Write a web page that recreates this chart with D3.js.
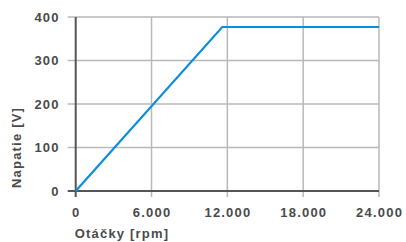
<!DOCTYPE html>
<html>
<head>
<meta charset="utf-8">
<script src="https://cdn.jsdelivr.net/npm/d3@7"></script>
<style>
  html, body { margin: 0; padding: 0; background: #fff; }
  text { font-family: "Liberation Sans", Arial, sans-serif; font-weight: bold; fill: #4a4a4a; }
</style>
</head>
<body>
<div id="chart"></div>
<script>
// values
const rpm = [0, 11600, 24000];
const voltage = [0, 377, 377];
const xTicks = [0, 6000, 12000, 18000, 24000];
const yTicks = [0, 100, 200, 300, 400];
const xTitle = "Otáčky [rpm]";
const yTitle = "Napatie [V]";

const width = 406;
const height = 242;
const margin = { top: 17, right: 27, bottom: 51, left: 75.7 };

const svg = d3.select("#chart")
    .append("svg")
    .attr("width", width)
    .attr("height", height);

const x = d3.scaleLinear().domain([0, 24000]).range([margin.left, width - margin.right]);
const y = d3.scaleLinear().domain([0, 400]).range([height - margin.bottom, margin.top]);

const fmt = d => d3.format(",")(d).replace(/,/g, ".");

// grid lines (they also act as ticks past the axes)
svg.append("g")
    .selectAll("line")
    .data(yTicks.slice(1))
    .enter()
    .append("line")
    .attr("x1", x(0) - 8)
    .attr("x2", x(24000))
    .attr("y1", d => y(d))
    .attr("y2", d => y(d))
    .attr("stroke", "#b8b8b8")
    .attr("stroke-width", 1.5);

svg.append("g")
    .selectAll("line")
    .data(xTicks.slice(1))
    .enter()
    .append("line")
    .attr("x1", d => x(d))
    .attr("x2", d => x(d))
    .attr("y1", y(400))
    .attr("y2", y(0) + 6)
    .attr("stroke", "#b8b8b8")
    .attr("stroke-width", 1.5);

// axes
svg.append("line")
    .attr("x1", x(0) - 8).attr("x2", x(24000))
    .attr("y1", y(0)).attr("y2", y(0))
    .attr("stroke", "#555").attr("stroke-width", 2);
svg.append("line")
    .attr("x1", x(0)).attr("x2", x(0))
    .attr("y1", y(400)).attr("y2", y(0) + 6)
    .attr("stroke", "#555").attr("stroke-width", 2);

// tick labels
svg.append("g")
    .selectAll("text")
    .data(yTicks)
    .enter()
    .append("text")
    .attr("x", x(0) - 16)
    .attr("y", d => y(d))
    .attr("dy", "0.35em")
    .attr("text-anchor", "end")
    .style("font-size", "13px")
    .style("letter-spacing", "1.2px")
    .text(d => d);

svg.append("g")
    .selectAll("text")
    .data(xTicks)
    .enter()
    .append("text")
    .attr("x", d => x(d) + 0.6)
    .attr("y", y(0) + 26)
    .attr("text-anchor", "middle")
    .style("font-size", "13px")
    .style("letter-spacing", "1.2px")
    .text(d => fmt(d));

// axis titles
svg.append("text")
    .attr("x", x(0) - 1)
    .attr("y", 238)
    .style("font-size", "13px")
    .style("letter-spacing", "1.2px")
    .text(xTitle);

svg.append("text")
    .attr("transform", `translate(21, ${y(0) - 3}) rotate(-90)`)
    .attr("text-anchor", "start")
    .style("font-size", "13px")
    .style("letter-spacing", "1.2px")
    .text(yTitle);

// the curve
const line = d3.line()
    .x((d, i) => x(d))
    .y((d, i) => y(voltage[i]));

svg.append("path")
    .datum(rpm)
    .attr("d", line)
    .attr("fill", "none")
    .attr("stroke", "#0a8fd8")
    .attr("stroke-width", 2.2);
</script>
</body>
</html>
